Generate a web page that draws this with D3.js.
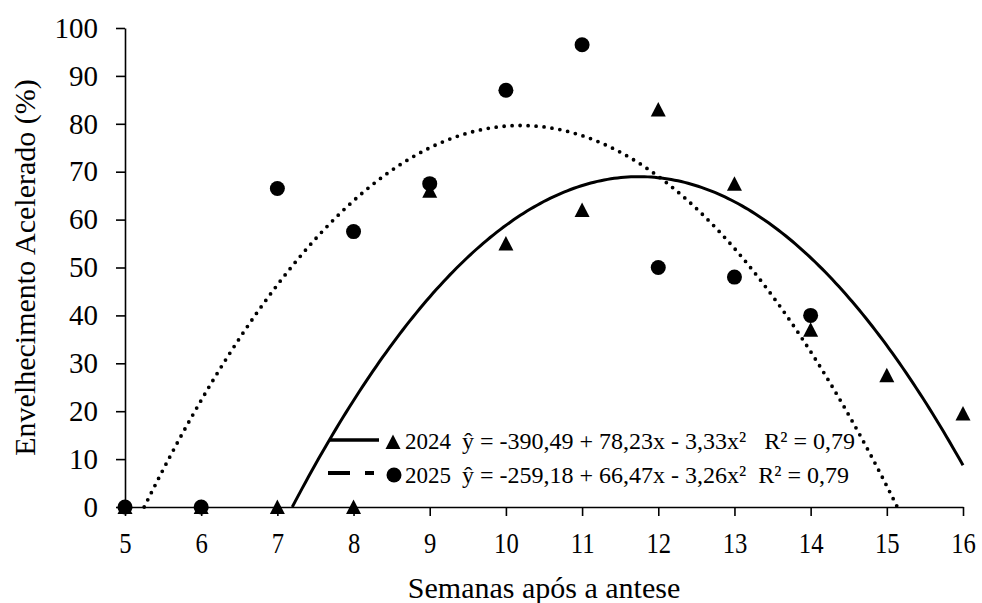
<!DOCTYPE html>
<html>
<head>
<meta charset="utf-8">
<script src="https://cdn.jsdelivr.net/npm/d3@7"></script>
<style>
  body { margin: 0; background: #fff; }
</style>
</head>
<body>
<div id="chart"></div>
<script>
// data
const weeks = [5, 6, 7, 8, 9, 10, 11, 12, 13, 14, 15, 16];
const val2024 = [0, 0, 0, 0, 66, 55, 62, 83, 67.5, 37, 27.5, 19.5];
const weeks2025 = [5, 6, 7, 8, 9, 10, 11, 12, 13, 14];
const val2025 = [0, 0, 66.5, 57.5, 67.5, 87, 96.5, 50, 48, 40];
const yTicks = [0, 10, 20, 30, 40, 50, 60, 70, 80, 90, 100];
// trend line coefficients [a, b, c] for y = a + b x + c x²
const coef2024 = [-390.49, 78.23, -3.33];
const coef2025 = [-259.18, 66.47, -3.26];
const legendYears = ["2024", "2025"];
const legendEq = ["ŷ = -390,49 + 78,23x - 3,33x²   R² = 0,79",
                  "ŷ = -259,18 + 66,47x - 3,26x²  R² = 0,79"];

const FONT = "'Liberation Serif', 'Times New Roman', Tinos, 'DejaVu Serif', serif";
const W = 982, H = 603;
const svg = d3.select("#chart").append("svg")
    .attr("width", W).attr("height", H)
    .attr("font-family", FONT);

const x = d3.scaleLinear().domain([5, 16]).range([125, 963]);
const y = d3.scaleLinear().domain([0, 100]).range([507, 28]);

// axes
const gy = svg.append("g")
    .attr("transform", `translate(${x(5)},0)`)
    .call(d3.axisLeft(y).tickValues(yTicks).tickSize(9).tickSizeOuter(0).tickPadding(18));
const gx = svg.append("g")
    .attr("transform", `translate(0,${y(0)})`)
    .call(d3.axisBottom(x).tickValues(weeks).tickSize(9).tickSizeOuter(0).tickPadding(16));
[gx, gy].forEach(g => {
  g.attr("font-family", FONT).attr("font-size", 29);
  g.select(".domain").attr("stroke", "#000").attr("stroke-width", 1.6);
  g.selectAll(".tick line").attr("stroke", "#000").attr("stroke-width", 1.6);
  g.selectAll(".tick text").attr("fill", "#000");
});
// x labels look a bit condensed in the original
gx.selectAll(".tick text").attr("transform", "scale(0.85,1)");

// axis titles
svg.append("text")
    .attr("x", (x(5) + x(16)) / 2).attr("y", 598)
    .attr("text-anchor", "middle")
    .attr("font-size", 30)
    .text("Semanas após a antese");
svg.append("text")
    .attr("transform", `translate(35,${(y(0) + y(100)) / 2}) rotate(-90)`)
    .attr("text-anchor", "middle")
    .attr("font-size", 30)
    .text("Envelhecimento Acelerado (%)");

// trend curves, only where y >= 0
function curvePts(c, xmax) {
  const disc = Math.sqrt(c[1] * c[1] - 4 * c[2] * c[0]);
  const r1 = (-c[1] + disc) / (2 * c[2]), r2 = (-c[1] - disc) / (2 * c[2]);
  const lo = Math.max(5, Math.min(r1, r2)), hi = Math.min(xmax, Math.max(r1, r2));
  const pts = [];
  for (let i = 0; i <= 200; i++) {
    const xv = lo + (hi - lo) * i / 200;
    pts.push([xv, Math.max(0, c[0] + c[1] * xv + c[2] * xv * xv)]);
  }
  return pts;
}
const line = d3.line().x(d => x(d[0])).y(d => y(d[1]));

svg.append("path")
    .attr("d", line(curvePts(coef2025, 16)))
    .attr("fill", "none").attr("stroke", "#000")
    .attr("stroke-width", 3.8).attr("stroke-linecap", "round")
    .attr("stroke-dasharray", "0 8");
svg.append("path")
    .attr("d", line(curvePts(coef2024, 16)))
    .attr("fill", "none").attr("stroke", "#000").attr("stroke-width", 3);

// markers
const tri = "M0,-7.5L7.5,7L-7.5,7Z";
svg.selectAll(".t24").data(weeks).enter().append("path")
    .attr("class", "t24")
    .attr("d", tri)
    .attr("transform", (d, i) => `translate(${x(d)},${y(val2024[i])})`)
    .attr("fill", "#000");
svg.selectAll(".c25").data(weeks2025).enter().append("circle")
    .attr("class", "c25")
    .attr("cx", d => x(d))
    .attr("cy", (d, i) => y(val2025[i]))
    .attr("r", 7.5)
    .attr("fill", "#000");

// legend
const lg = svg.append("g");
lg.append("line").attr("x1", 330).attr("x2", 379).attr("y1", 440).attr("y2", 440)
    .attr("stroke", "#000").attr("stroke-width", 3.5);
lg.append("line").attr("x1", 328).attr("x2", 374).attr("y1", 473).attr("y2", 473)
    .attr("stroke", "#000").attr("stroke-width", 4)
    .attr("stroke-dasharray", "22 15 9 100");
lg.append("path").attr("d", tri).attr("transform", "translate(393,442)").attr("fill", "#000");
lg.append("circle").attr("cx", 394).attr("cy", 475).attr("r", 7.5).attr("fill", "#000");
lg.selectAll(".yr").data(legendYears).enter().append("text")
    .attr("class", "yr")
    .attr("x", 405).attr("y", (d, i) => 449 + i * 34)
    .attr("font-size", 23)
    .text(d => d);
lg.selectAll(".eq").data(legendEq).enter().append("text")
    .attr("class", "eq")
    .attr("x", 462).attr("y", (d, i) => 449 + i * 34)
    .attr("font-size", 24)
    .style("white-space", "pre")
    .text(d => d);
</script>
</body>
</html>
